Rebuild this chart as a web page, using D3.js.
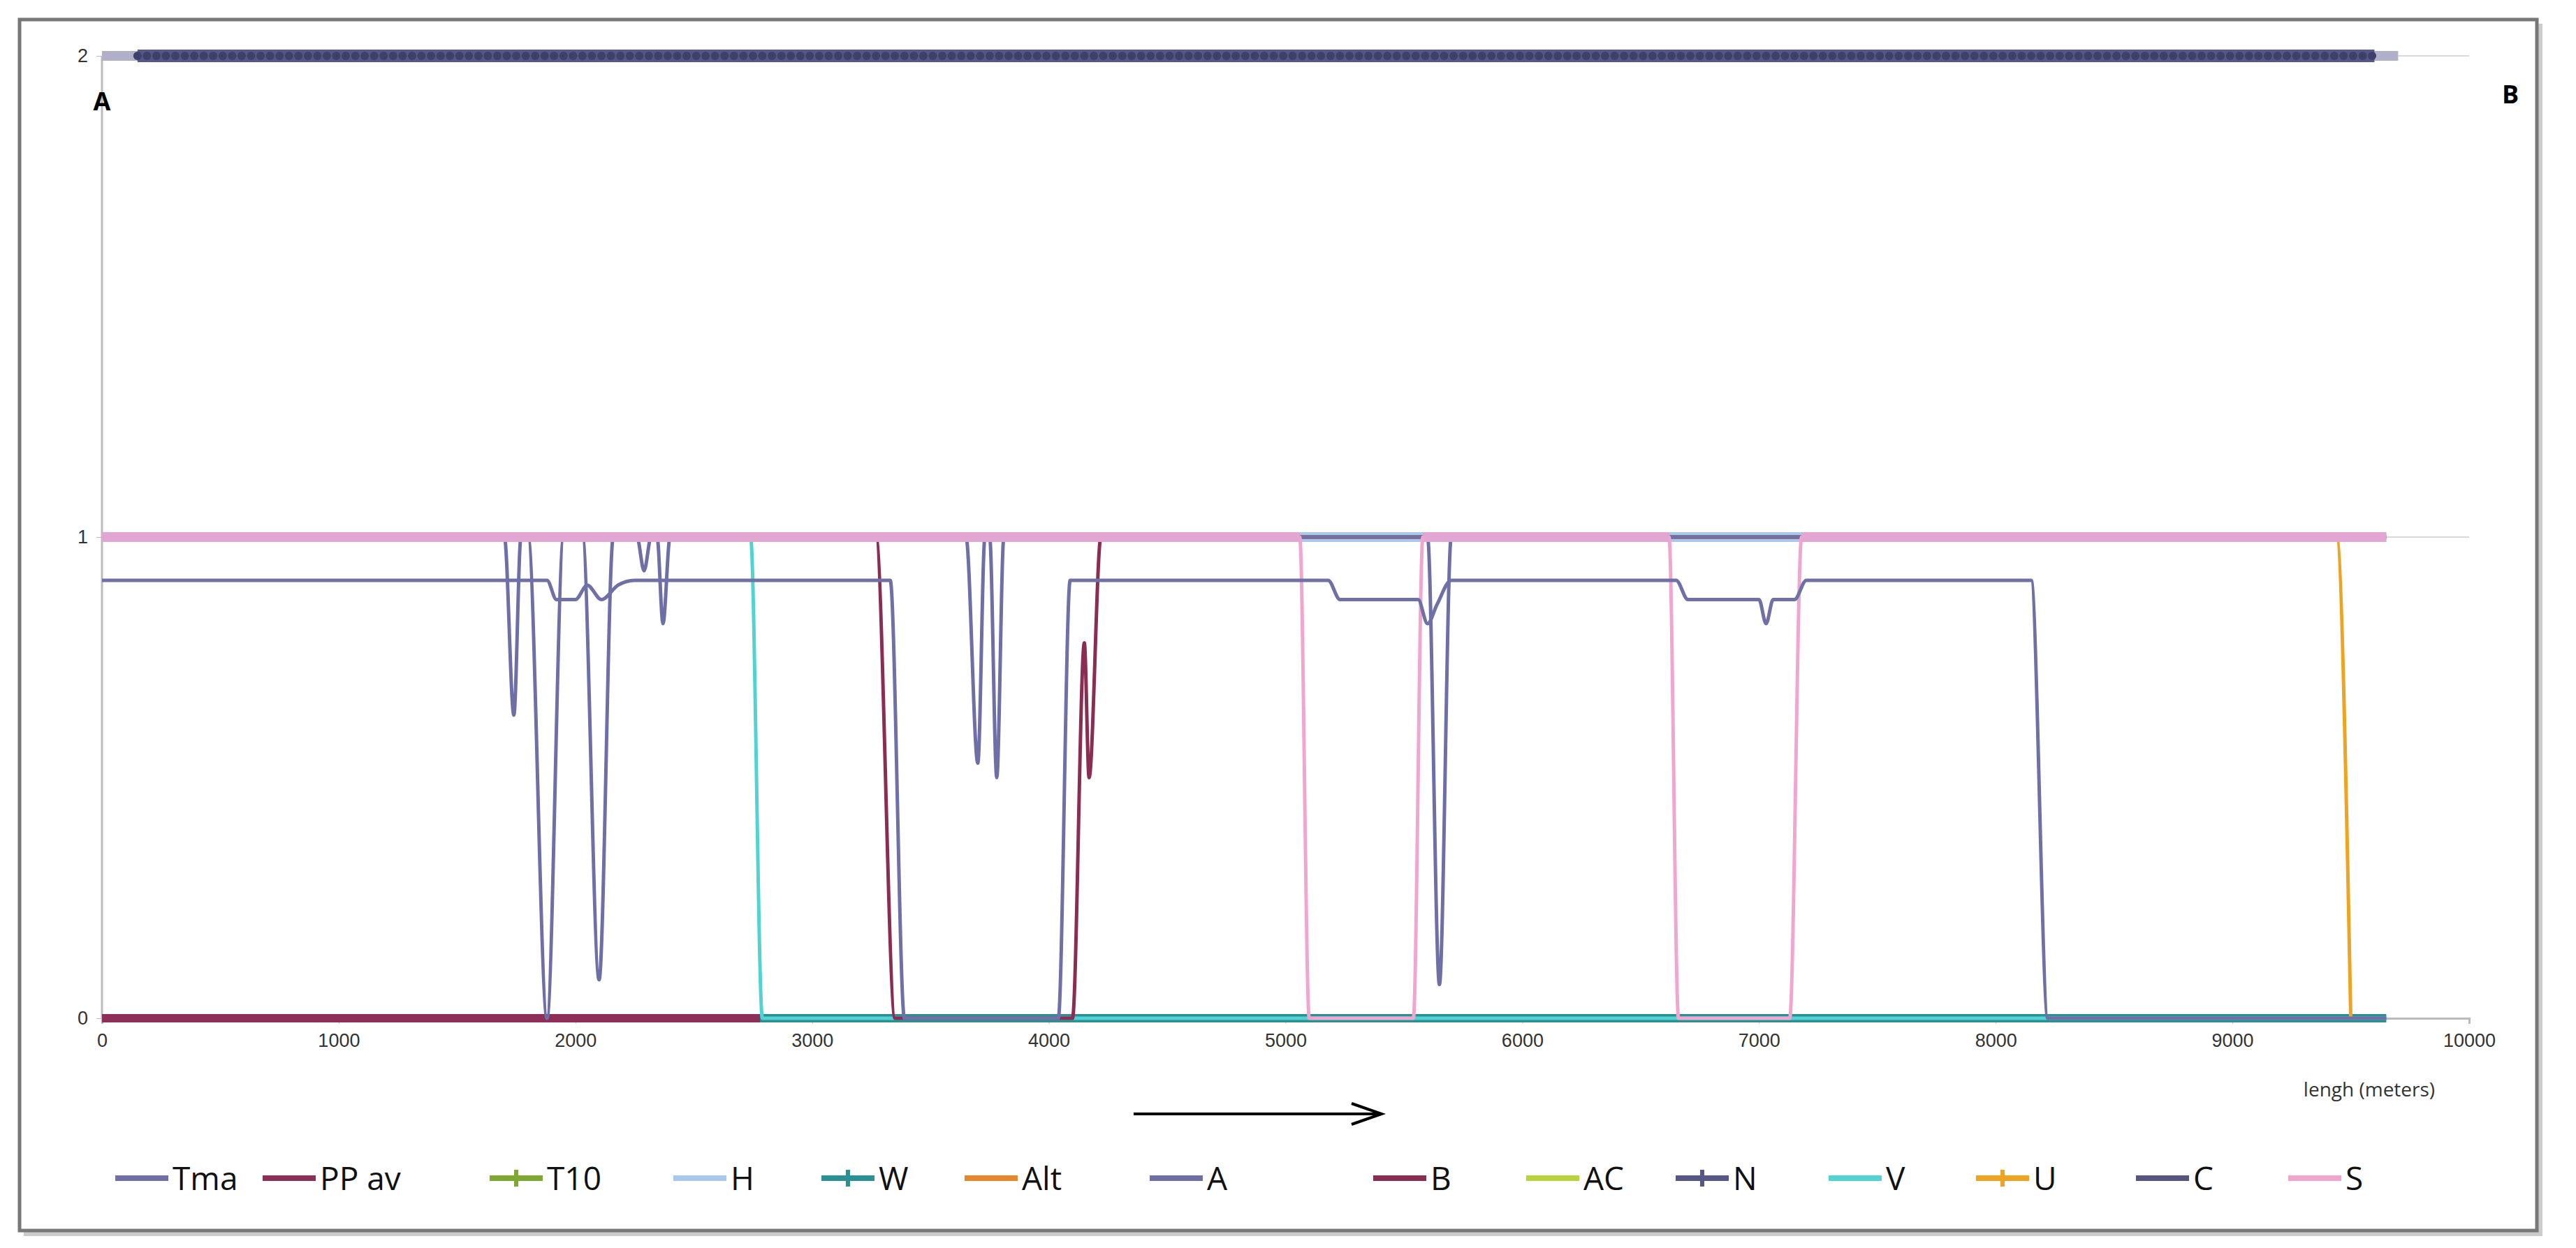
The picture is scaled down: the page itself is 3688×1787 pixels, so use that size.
<!DOCTYPE html>
<html><head><meta charset="utf-8">
<script src="https://cdn.jsdelivr.net/npm/d3@7"></script>
<style>body{margin:0;background:#fff}svg{display:block;font-family:"Open Sans",Arial,sans-serif}</style>
</head><body><svg id="chart" width="3688" height="1787"></svg>
<script>
// series values: [length m, value]
const tma = [[0,.91],[1880,.91],[1920,.87],[2000,.87],[2050,.9],[2110,.87],[2180,.9],[2250,.91],[3330,.91],[3390,0],[4040,0],[4090,.91],[5180,.91],[5230,.87],[5560,.87],[5600,.82],[5640,.86],[5700,.91],[6650,.91],[6700,.87],[7000,.87],[7030,.82],[7060,.87],[7150,.87],[7200,.91],[8150,.91],[8220,0],[9650,0]];
const aSer = [[0,1],[1700,1],[1740,.63],[1770,1],[1800,1],[1880,0],[1950,1],[2030,1],[2100,.08],[2160,1],[2260,1],[2290,.93],[2320,1],[2345,1],[2370,.82],[2400,1],[3650,1],[3700,.53],[3730,1],[3750,1],[3780,.5],[3810,1],[5600,1],[5650,.07],[5700,1],[9650,1]];
const bSer = [[0,1],[3270,1],[3350,0],[4100,0],[4150,.78],[4170,.5],[4220,1],[9650,1]];
const vSer = [[0,1],[2740,1],[2790,0],[9650,0]];
const hSer = [[0,1],[9650,1]];
const sSer = [[0,1],[5060,1],[5100,0],[5540,0],[5580,1],[6620,1],[6660,0],[7130,0],[7180,1],[9650,1]];
const uSer = [[0,1],[9440,1],[9500,0]];
const wSer = [[0,0],[9650,0]];
const ppSer = [[0,0],[2780,0]];
const cSer = [[0,2],[9700,2]];
const nSer = [[150,2],[9600,2]];
const xTicks = d3.range(0, 10001, 1000);
const yTicks = [0, 1, 2];
const legendNames = ["Tma","PP av","T10","H","W","Alt","A","B","AC","N","V","U","C","S"];
const colors = {Tma:"#6f71a6","PP av":"#8e2f58",T10:"#7fa832",H:"#a9c8ec",W:"#2c8f94",Alt:"#e8862a",A:"#6f6fa8",B:"#8b2d52",AC:"#b8d43c",N:"#575787",V:"#52d3d3",U:"#eea321",C:"#55557f",S:"#f1a6cf"};
const markers = new Set(["T10","W","N","U"]);

const svg = d3.select("#chart");
const x = d3.scaleLinear().domain([0, 10000]).range([146, 3535]);
const y = d3.scaleLinear().domain([0, 2]).range([1458, 80]);

// frame
svg.append("rect").attr("x",34).attr("y",34).attr("width",3606).attr("height",1736).attr("fill","#ccc");
svg.append("rect").attr("x",28).attr("y",28).attr("width",3604).attr("height",1734).attr("fill","#fff").attr("stroke","#777").attr("stroke-width",5);

// grid
svg.append("g").selectAll("line").data(yTicks).join("line")
  .attr("x1",x(0)).attr("x2",x(10000)).attr("y1",d=>y(d)).attr("y2",d=>y(d))
  .attr("stroke","#d9d9d9").attr("stroke-width",2);
svg.append("line").attr("x1",x(0)).attr("x2",x(0)).attr("y1",y(2)).attr("y2",y(0)).attr("stroke","#bbb").attr("stroke-width",3);

const xAxis = svg.append("g").attr("transform",`translate(0,${y(0)})`)
  .call(d3.axisBottom(x).tickValues(xTicks).tickFormat(d3.format("d")).tickSize(8).tickPadding(14));
xAxis.select(".domain").attr("stroke","#bbb").attr("stroke-width",3);
xAxis.selectAll("line").attr("stroke","#bbb");
xAxis.selectAll("text").attr("font-size",27).attr("fill","#333");
const yAxis = svg.append("g").attr("transform",`translate(${x(0)},0)`)
  .call(d3.axisLeft(y).tickValues(yTicks).tickFormat(d3.format("d")).tickSize(8).tickPadding(12));
yAxis.select(".domain").remove();
yAxis.selectAll("line").attr("stroke","#bbb");
yAxis.selectAll("text").attr("font-size",27).attr("fill","#333");

const line = d3.line().x(d=>x(d[0])).y(d=>y(d[1])).curve(d3.curveMonotoneX);
function draw(data, name, w, col){
  svg.append("path").datum(data).attr("d",line).attr("fill","none")
    .attr("stroke",col||colors[name]).attr("stroke-width",w).attr("stroke-linejoin","round");
}
// bottom
draw(wSer,"W",12);
draw(ppSer,"PP av",12);
// level 1
draw(hSer,"H",14);
draw(vSer,"V",5);
draw(uSer,"U",5);
draw(bSer,"B",5);
draw(aSer,"A",5);
draw(sSer,"S",5);
// pink/lavender band on top of the level-1 lines where S stays at 1
svg.append("g").selectAll("line").data([[0,5060],[5580,6620],[7180,9650]]).join("line")
  .attr("x1",d=>x(d[0])).attr("x2",d=>x(d[1])).attr("y1",y(1)).attr("y2",y(1))
  .attr("stroke","#e2a6d2").attr("stroke-width",14);
draw(tma,"Tma",5);
// level 2
draw(cSer,"C",14,"#b0b0c8");
draw(nSer,"N",18);
svg.append("g").selectAll("circle").data(d3.range(150,9601,40)).join("circle")
  .attr("cx",d=>x(d)).attr("cy",y(2)).attr("r",6).attr("fill","#3f3f6c");

// labels
svg.append("text").attr("x",146).attr("y",158).attr("text-anchor","middle").attr("font-size",36).attr("font-weight","bold").text("A");
svg.append("text").attr("x",3594).attr("y",148).attr("text-anchor","middle").attr("font-size",36).attr("font-weight","bold").text("B");
svg.append("text").attr("x",3392).attr("y",1570).attr("text-anchor","middle").attr("font-size",28).attr("fill","#333").text("lengh (meters)");
svg.append("line").attr("x1",1623).attr("x2",1975).attr("y1",1595).attr("y2",1595).attr("stroke","#000").attr("stroke-width",4);
svg.append("path").attr("d","M1935,1580 L1978,1595 L1935,1610").attr("fill","none").attr("stroke","#000").attr("stroke-width",4);

// legend
const legX = [165,376,701,964,1176,1381,1646,1966,2185,2399,2618,2829,3058,3276];
const leg = svg.append("g").selectAll("g").data(legendNames).join("g")
  .attr("transform",(d,i)=>`translate(${legX[i]},1687)`);
leg.append("line").attr("x1",0).attr("x2",76).attr("stroke",d=>colors[d]).attr("stroke-width",8);
leg.filter(d=>markers.has(d)).append("path").attr("d","M38,-12V12M26,0H50").attr("stroke",d=>colors[d]).attr("stroke-width",6);
leg.append("text").attr("x",82).attr("dy","0.36em").attr("font-size",46).attr("fill","#111").text(d=>d);
</script></body></html>
